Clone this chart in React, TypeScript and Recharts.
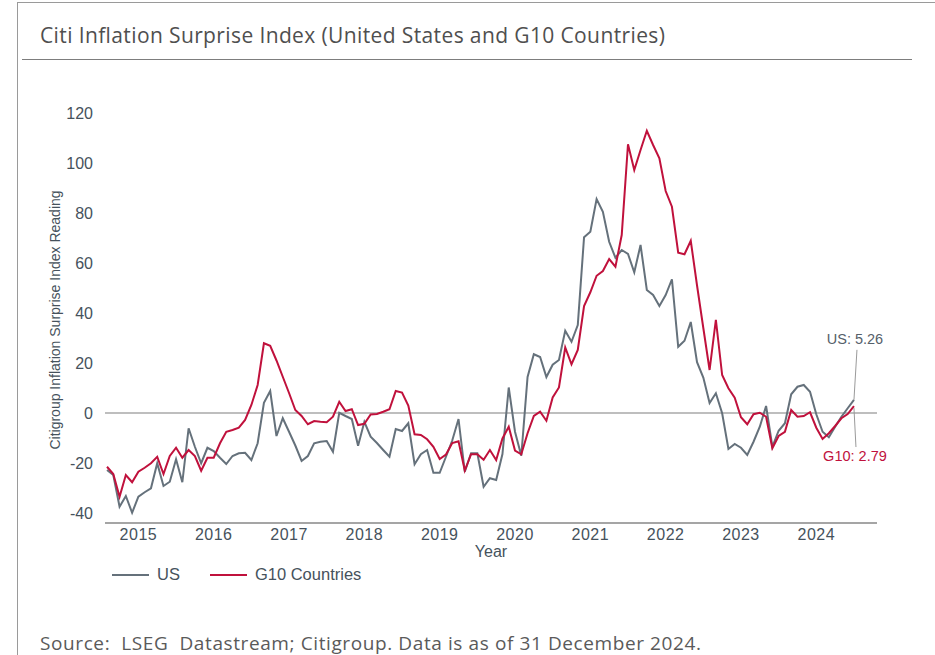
import { LineChart, Line, XAxis, YAxis, ReferenceLine, Legend } from 'recharts';

// monthly readings, first point = Aug 2014
const firstYear = 2014;
const firstMonth = 8;
const years = [2015, 2016, 2017, 2018, 2019, 2020, 2021, 2022, 2023, 2024];
const yTicks = [-40, -20, 0, 20, 40, 60, 80, 100, 120];
const seriesOrder = ['US', 'G10 Countries'];

const usValues = [
    -22.8, -24.8, -37.5, -33.2, -39.9, -33.5, -31.7, -30.1, -20.1, -29.2,
    -27.5, -18.5, -27.7, -6.1, -13.5, -20.1, -13.9, -15.2, -17.9, -20.4,
    -17.2, -16.1, -15.9, -18.8, -12.1, 4.1, 8.8, -9.2, -2.1, -7.5,
    -13, -19.2, -17.2, -12.1, -11.5, -11.2, -15.5, 0.1, -1.2, -2.4,
    -13.1, -3.5, -9.5, -12, -14.8, -17.5, -6.4, -7.2, -4.1, -20.5,
    -16.5, -14.8, -23.9, -23.9, -17.5, -11, -2.4, -23.5, -16.1, -16.1,
    -29.5, -26.1, -26.8, -16.4, 10.2, -7.5, -17.1, 14.4, 23.5, 22.4,
    14.4, 19.3, 21.2, 32.9, 28.5, 35.2, 70.3, 72.5, 85.6, 80.5,
    68.5, 62.1, 65.2, 63.6, 56.3, 67.2, 49.2, 47.2, 42.8, 47.2,
    53.5, 26.5, 28.9, 36.4, 20.3, 14.2, 4, 7.9, -0.1, -14.4,
    -12.4, -13.9, -16.8, -11.5, -5.5, 2.8, -13.5, -7.1, -4.1, 7.5,
    10.5, 11.2, 8.5, -0.5, -7.5, -9.7, -5.5, -1.5, 1.9, 5.26,
];

const g10Values = [
    -21.5, -24.4, -33.5, -24.8, -27.7, -23.5, -21.9, -20.1, -17.5, -24.4,
    -17.2, -13.9, -17.9, -14.8, -17.2, -23.1, -17.9, -17.9, -12.1, -7.5,
    -6.8, -5.9, -2.8, 3.2, 11.2, 27.9, 26.9, 21, 14.5, 8,
    1.2, -1.2, -4.5, -3.2, -3.5, -3.7, -1.5, 4.5, 0.8, 1.5,
    -4.8, -4.3, -0.6, -0.4, 0.5, 1.5, 8.8, 8.2, 3, -8.5,
    -8.8, -10.5, -13.5, -18.4, -16.6, -12, -11.3, -23, -16.5, -16.5,
    -18.7, -14.8, -18.8, -10.2, -5.5, -15, -16.5, -8.1, -1.2, 0.5,
    -3.1, 6.2, 10.2, 26.2, 19.5, 25.2, 42.8, 48.3, 54.9, 56.8,
    61.6, 58.5, 71.2, 107.5, 97.2, 105.2, 112.9, 107.2, 101.9, 88.8,
    82.5, 64.1, 63.5, 68.9, 51, 34, 17.2, 37.3, 15.2, 9.9,
    6.1, -1.7, -4.5, -0.5, 0.1, -1.5, -14.1, -9.2, -7.5, 1.2,
    -1.5, -1.2, 0.3, -5.9, -10.4, -8.1, -5.2, -2.1, -0.4, 2.79,
];

const data = usValues.map((us, i) => ({ month: i, us, g10: g10Values[i] }));
const lastIndex = usValues.length - 1;
const yearTicks = years.map((y) => (y - firstYear) * 12 - (firstMonth - 1));

const US_COLOR = '#65717b';
const G10_COLOR = '#c0113c';
const TEXT_COLOR = '#46525c';
const AXIS_FONT = '"Liberation Sans", Arial, sans-serif';

const makeEndLabel = (text: string, color: string, above: boolean) => (props: any) => {
    const { cx, cy, index } = props;
    if (index !== lastIndex) return <g key={`dot-${index}`} />;
    return (
        <g key={`dot-${index}`}>
            {above ? (
                <line x1={cx} y1={cy} x2={cx + 3} y2={cy - 50} stroke="#9a9a9a" strokeWidth={1} />
            ) : (
                <line x1={cx} y1={cy + 2} x2={cx + 2} y2={cy + 41} stroke="#9a9a9a" strokeWidth={1} />
            )}
            <text
                x={cx + 1}
                y={above ? cy - 61 : cy + 50}
                textAnchor="middle"
                dominantBaseline="central"
                fill={color}
                fontSize={14.5}
                fontFamily={AXIS_FONT}
            >
                {text}
            </text>
        </g>
    );
};

const renderLegend = ({ payload }: any) => {
    const items = [...(payload || [])].sort(
        (a: any, b: any) => seriesOrder.indexOf(a.value) - seriesOrder.indexOf(b.value)
    );
    return (
        <div style={{ display: 'flex', alignItems: 'center', fontFamily: AXIS_FONT, fontSize: 16.5, color: TEXT_COLOR }}>
            {items.map((entry: any) => (
                <div key={entry.value} style={{ display: 'flex', alignItems: 'center', marginRight: 30 }}>
                    <span style={{ display: 'inline-block', width: 37, borderTop: `2px solid ${entry.color}`, marginRight: 8 }} />
                    <span>{entry.value}</span>
                </div>
            ))}
        </div>
    );
};

const App = () => {
    return (
        <div style={{ position: 'absolute', left: 0, top: 0, width: 935, height: 655, overflow: 'hidden', background: '#fff' }}>
            <div style={{ position: 'absolute', left: 17, top: 2, width: 940, height: 700, borderLeft: '1.5px solid #9a9a9a', borderTop: '1.5px solid #9a9a9a' }} />
            <div
                style={{
                    position: 'absolute', left: 40, top: 21, lineHeight: '28px', fontFamily: '"Open Sans", sans-serif',
                    fontSize: 21, letterSpacing: 0.38, color: '#4f4f4f', whiteSpace: 'nowrap'
                }}
            >
                Citi Inflation Surprise Index (United States and G10 Countries)
            </div>
            <div style={{ position: 'absolute', left: 22, top: 59, width: 890, height: 0, borderTop: '1.5px solid #7d7d7d' }} />

            <div style={{ position: 'absolute', left: 0, top: 0 }}>
                <LineChart width={935} height={600} data={data} margin={{ top: 88, right: 58, bottom: 37, left: 0 }}>
                    <XAxis
                        dataKey="month"
                        type="number"
                        domain={[-0.32, 122.67]}
                        ticks={yearTicks}
                        interval={0}
                        tickFormatter={(v: number) => String(firstYear + Math.floor((v + firstMonth - 1) / 12))}
                        axisLine={{ stroke: '#a5a5a5', strokeWidth: 2 }}
                        tickLine={false}
                        tickMargin={0}
                        height={40}
                        tick={{ fill: TEXT_COLOR, fontSize: 16, fontFamily: AXIS_FONT, letterSpacing: 0.5 }}
                        label={{ value: 'Year', position: 'insideBottom', offset: 6, fill: TEXT_COLOR, fontSize: 16, fontFamily: AXIS_FONT }}
                    />
                    <YAxis
                        type="number"
                        domain={[-44, 130]}
                        ticks={yTicks}
                        interval={0}
                        width={105}
                        axisLine={false}
                        tickLine={false}
                        tickMargin={6}
                        tick={{ fill: TEXT_COLOR, fontSize: 16, fontFamily: AXIS_FONT }}
                        label={{
                            content: () => (
                                <text
                                    transform="translate(55, 320) rotate(-90)"
                                    textAnchor="middle"
                                    dominantBaseline="central"
                                    fill={TEXT_COLOR}
                                    fontSize={14}
                                    fontFamily={AXIS_FONT}
                                >
                                    Citigroup Inflation Surprise Index Reading
                                </text>
                            ),
                        }}
                    />
                    <ReferenceLine y={0} stroke="#a8a8a8" strokeWidth={1.5} />
                    <Legend
                        layout="horizontal"
                        verticalAlign="middle"
                        align="center"
                        content={renderLegend}
                        wrapperStyle={{ left: 112, top: 565, width: 400, height: 20 }}
                    />
                    <Line
                        type="linear"
                        dataKey="us"
                        name="US"
                        stroke={US_COLOR}
                        strokeWidth={2}
                        dot={makeEndLabel('US: 5.26', '#55606a', true)}
                        activeDot={false}
                        isAnimationActive={false}
                    />
                    <Line
                        type="linear"
                        dataKey="g10"
                        name="G10 Countries"
                        stroke={G10_COLOR}
                        strokeWidth={2}
                        dot={makeEndLabel('G10: 2.79', G10_COLOR, false)}
                        activeDot={false}
                        isAnimationActive={false}
                    />
                </LineChart>
            </div>

            <div
                style={{
                    position: 'absolute', left: 40, top: 630, lineHeight: '26px', fontFamily: '"Open Sans", sans-serif',
                    fontSize: 19, letterSpacing: 0.6, color: '#5a5a5a', whiteSpace: 'pre'
                }}
            >
                {'Source:  LSEG  Datastream; Citigroup. Data is as of 31 December 2024.'}
            </div>
        </div>
    );
};

export default App;
